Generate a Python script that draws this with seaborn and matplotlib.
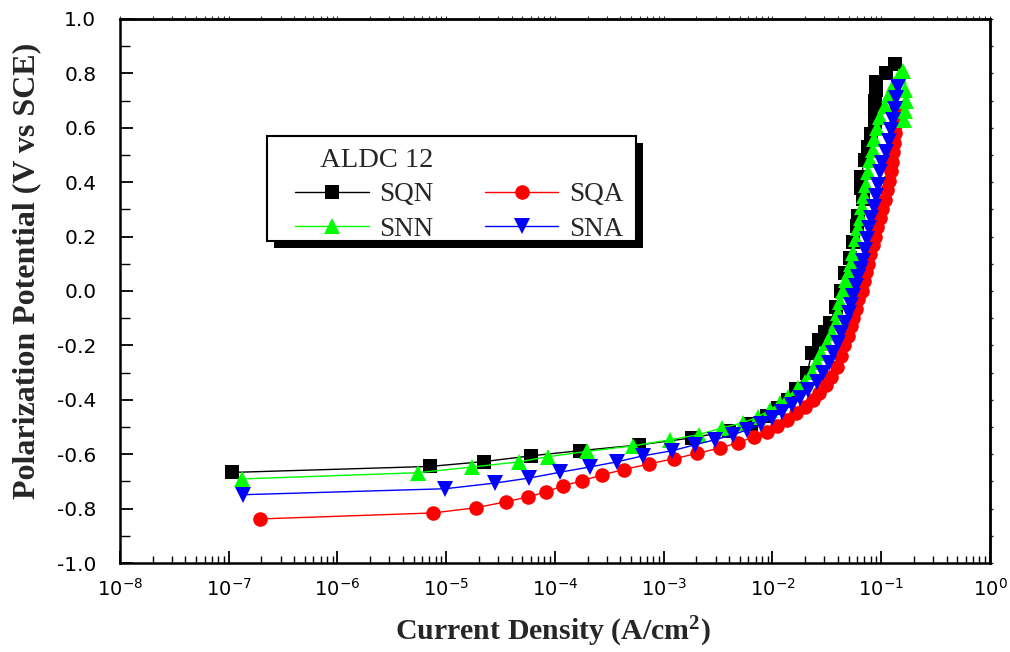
import numpy as np
import pandas as pd
import matplotlib
matplotlib.use("Agg")
import matplotlib.pyplot as plt
import seaborn as sns
from matplotlib.ticker import (FixedLocator, LogLocator, MultipleLocator,
                               NullFormatter, LogFormatterSciNotation)
from matplotlib.font_manager import FontProperties
from matplotlib.patches import Rectangle
from matplotlib.transforms import IdentityTransform
from matplotlib.lines import Line2D
from matplotlib.legend_handler import HandlerLine2D

# Potentiodynamic polarization of ALDC 12 samples
# log10 of current density (A/cm^2) and potential (V vs SCE)
sqn_logj = [-6.97, -5.15, -4.65, -4.22, -3.77, -3.23, -2.74, -2.40, -2.20, -2.05,
            -1.95, -1.86, -1.78, -1.68, -1.64, -1.57, -1.52, -1.47, -1.42, -1.37,
            -1.33, -1.29, -1.26, -1.22, -1.21, -1.17, -1.19, -1.19, -1.15, -1.12,
            -1.09, -1.06, -1.06, -1.06, -1.05, -1.05, -0.96, -0.87]
sqn_e = [-0.667, -0.645, -0.627, -0.606, -0.587, -0.566, -0.540, -0.515, -0.490, -0.460,
         -0.430, -0.400, -0.360, -0.300, -0.228, -0.180, -0.150, -0.117, -0.060, 0.000,
         0.067, 0.122, 0.180, 0.240, 0.276, 0.337, 0.380, 0.420, 0.480, 0.530,
         0.576, 0.620, 0.657, 0.700, 0.740, 0.770, 0.800, 0.834]

sqa_logj = [-6.71, -5.12, -4.73, -4.45, -4.25, -4.08, -3.93, -3.75, -3.57, -3.37,
            -3.14, -2.91, -2.69, -2.48, -2.32, -2.17, -2.05, -1.96, -1.87, -1.78,
            -1.70, -1.63, -1.57, -1.51, -1.46, -1.41, -1.37, -1.34, -1.31, -1.28,
            -1.26, -1.23, -1.21, -1.18, -1.16, -1.14, -1.12, -1.10, -1.08, -1.06,
            -1.04, -1.01, -0.99, -0.97, -0.95, -0.93, -0.91, -0.90, -0.89, -0.88,
            -0.87, -0.87, -0.86, -0.86]
sqa_e = [-0.838, -0.816, -0.797, -0.775, -0.757, -0.739, -0.716, -0.698, -0.676, -0.657,
         -0.636, -0.617, -0.597, -0.577, -0.558, -0.536, -0.517, -0.497, -0.475, -0.450,
         -0.425, -0.400, -0.374, -0.345, -0.315, -0.280, -0.240, -0.200, -0.165, -0.130,
         -0.100, -0.065, -0.030, 0.000, 0.035, 0.068, 0.100, 0.135, 0.170, 0.200,
         0.235, 0.270, 0.300, 0.335, 0.370, 0.405, 0.440, 0.475, 0.510, 0.545,
         0.580, 0.610, 0.640, 0.670]

snn_logj = [-6.88, -5.26, -4.76, -4.33, -4.06, -3.71, -3.28, -2.94, -2.68, -2.46,
            -2.27, -2.13, -2.02, -1.93, -1.86, -1.77, -1.70, -1.64, -1.59, -1.55,
            -1.50, -1.45, -1.42, -1.40, -1.38, -1.35, -1.32, -1.30, -1.28, -1.26,
            -1.23, -1.21, -1.19, -1.18, -1.16, -1.14, -1.12, -1.10, -1.08, -1.07,
            -1.04, -1.01, -0.97, -0.93, -0.88, -0.84, -0.80, -0.78, -0.77, -0.78,
            -0.79]
snn_e = [-0.691, -0.668, -0.647, -0.628, -0.609, -0.590, -0.569, -0.547, -0.528, -0.503,
         -0.484, -0.462, -0.436, -0.411, -0.389, -0.356, -0.333, -0.297, -0.260, -0.227,
         -0.190, -0.153, -0.116, -0.080, -0.040, 0.000, 0.040, 0.068, 0.100, 0.140,
         0.190, 0.230, 0.270, 0.310, 0.350, 0.390, 0.436, 0.480, 0.520, 0.558,
         0.600, 0.640, 0.680, 0.720, 0.760, 0.790, 0.810, 0.740, 0.700, 0.660,
         0.630]

sna_logj = [-6.87, -5.01, -4.55, -4.24, -3.95, -3.68, -3.43, -3.19, -2.92, -2.71,
            -2.53, -2.36, -2.23, -2.11, -2.00, -1.91, -1.82, -1.75, -1.67, -1.59,
            -1.54, -1.48, -1.44, -1.40, -1.37, -1.33, -1.30, -1.28, -1.26, -1.23,
            -1.21, -1.19, -1.17, -1.15, -1.13, -1.11, -1.09, -1.07, -1.05, -1.03,
            -1.01, -0.99, -0.96, -0.93, -0.91, -0.89, -0.87, -0.86, -0.85]
sna_e = [-0.749, -0.727, -0.706, -0.688, -0.666, -0.647, -0.628, -0.606, -0.587, -0.565,
         -0.547, -0.528, -0.510, -0.490, -0.466, -0.444, -0.418, -0.393, -0.363, -0.333,
         -0.300, -0.264, -0.227, -0.190, -0.153, -0.116, -0.080, -0.050, -0.020, 0.020,
         0.050, 0.080, 0.110, 0.150, 0.190, 0.230, 0.270, 0.310, 0.350, 0.390,
         0.436, 0.470, 0.510, 0.550, 0.590, 0.630, 0.670, 0.710, 0.750]

series_names = ["SQN", "SQA", "SNN", "SNA"]
legend_title = "ALDC 12"
x_decades = [1e-8, 1e-7, 1e-6, 1e-5, 1e-4, 1e-3, 1e-2, 1e-1, 1e0]

sns.set_theme(style="ticks")
plt.rcParams["font.family"] = ["DejaVu Sans"]
plt.rcParams["axes.unicode_minus"] = False
plt.rcParams["mathtext.default"] = "regular"

fig = plt.figure(figsize=(10.1, 6.52), dpi=100)
ax = fig.add_axes([0.1188, 0.1365, 0.8614, 0.8344])
ax.set_xscale("log")

styles = {
    "SQN": ("s", "#000000", 9.5),
    "SQA": ("o", "#ff0000", 10.5),
    "SNN": ("^", "#00ff00", 11),
    "SNA": ("v", "#0000ff", 11),
}
data = {
    "SQN": (sqn_logj, sqn_e),
    "SQA": (sqa_logj, sqa_e),
    "SNN": (snn_logj, snn_e),
    "SNA": (sna_logj, sna_e),
}
for name in series_names:
    lj, e = data[name]
    df = pd.DataFrame({"j": np.power(10.0, lj), "E": e})
    marker, color, ms = styles[name]
    sns.lineplot(data=df, x="j", y="E", sort=False, estimator=None, ax=ax,
                 color=color, marker=marker, markersize=ms, markeredgewidth=0,
                 linewidth=1.0, label=name)

ax.set_xlim(x_decades[0], x_decades[-1])
ax.set_ylim(-1.0, 1.0)
ax.xaxis.set_major_locator(FixedLocator(x_decades))
ax.xaxis.set_major_formatter(LogFormatterSciNotation())
ax.xaxis.set_minor_locator(LogLocator(base=10, subs=np.arange(2, 10), numticks=200))
ax.xaxis.set_minor_formatter(NullFormatter())
ax.yaxis.set_major_locator(MultipleLocator(0.2))
ax.yaxis.set_minor_locator(MultipleLocator(0.1))
ax.yaxis.set_major_formatter(plt.FormatStrFormatter("%.1f"))

ax.tick_params(axis="both", which="both", direction="in", colors="black",
               top=False, right=False)
ax.tick_params(axis="x", which="major", length=9, width=1.3, labelsize=14, pad=11)
ax.tick_params(axis="x", which="minor", length=5, width=1.0)
ax.tick_params(axis="y", which="major", length=9, width=1.3, labelsize=14.5, pad=17)
ax.tick_params(axis="y", which="minor", length=7, width=1.0)
for sp in ax.spines.values():
    sp.set_linewidth(1.8)
    sp.set_color("black")

# small outward ticks on the right and top frame
sec_y = ax.secondary_yaxis("right")
sec_y.yaxis.set_major_locator(MultipleLocator(0.1))
sec_y.tick_params(direction="out", length=2, width=1.0, labelright=False)
sec_y.spines["right"].set_linewidth(1.8)
sec_x = ax.secondary_xaxis("top")
sec_x.xaxis.set_major_locator(FixedLocator(x_decades))
sec_x.xaxis.set_minor_locator(LogLocator(base=10, subs=np.arange(2, 10), numticks=200))
sec_x.tick_params(which="both", direction="out", length=2, width=0.8,
                  labeltop=False)
sec_x.xaxis.set_minor_formatter(NullFormatter())
sec_x.spines["top"].set_linewidth(1.8)

ax.set_xlabel("Current Density (A/cm$^{2}$)",
              fontdict=dict(family="Liberation Serif", weight="bold", size=21.5))
ax.set_ylabel("Polarization Potential (V vs SCE)",
              fontdict=dict(family="Liberation Serif", weight="bold", size=23))
ax.xaxis.set_label_coords(0.498, -0.096)
ax.xaxis.label.set_va("top")
ax.yaxis.set_label_coords(-0.091, 0.537)

handles, labels = ax.get_legend_handles_labels()
order = [labels.index(n) for n in ["SQN", "SNN", "SQA", "SNA"]]
leg_font = FontProperties(family="Liberation Serif", size=19.5)
title_font = FontProperties(family="Liberation Serif", size=20.5)
leg = ax.legend([handles[i] for i in order], [labels[i] for i in order],
                title="      " + legend_title, title_fontproperties=title_font,
                prop=leg_font, ncol=2, loc="upper left",
                bbox_to_anchor=(0.169, 0.785), borderaxespad=0,
                frameon=False, handlelength=3.3, handletextpad=0.4,
                columnspacing=1.3, borderpad=0.45, labelspacing=0.34,
                alignment="left",
                handler_map={Line2D: HandlerLine2D(xpad=0.6)})
leg.set_zorder(6)

# boxed legend frame with a solid drop shadow
fig.canvas.draw()
bb = leg.get_window_extent()
trim = 13
off = 7
frame_y0 = bb.y0 + trim
frame_h = bb.height - trim
shadow = Rectangle((bb.x0 + off, frame_y0 - off), bb.width, frame_h,
                   transform=IdentityTransform(), facecolor="black",
                   edgecolor="none", zorder=5.4, clip_on=False)
frame = Rectangle((bb.x0, frame_y0), bb.width, frame_h,
                  transform=IdentityTransform(), facecolor="white",
                  edgecolor="black", linewidth=1.5, zorder=5.6, clip_on=False)
ax.add_artist(shadow)
ax.add_artist(frame)

fig.savefig("out.png", dpi=100)
